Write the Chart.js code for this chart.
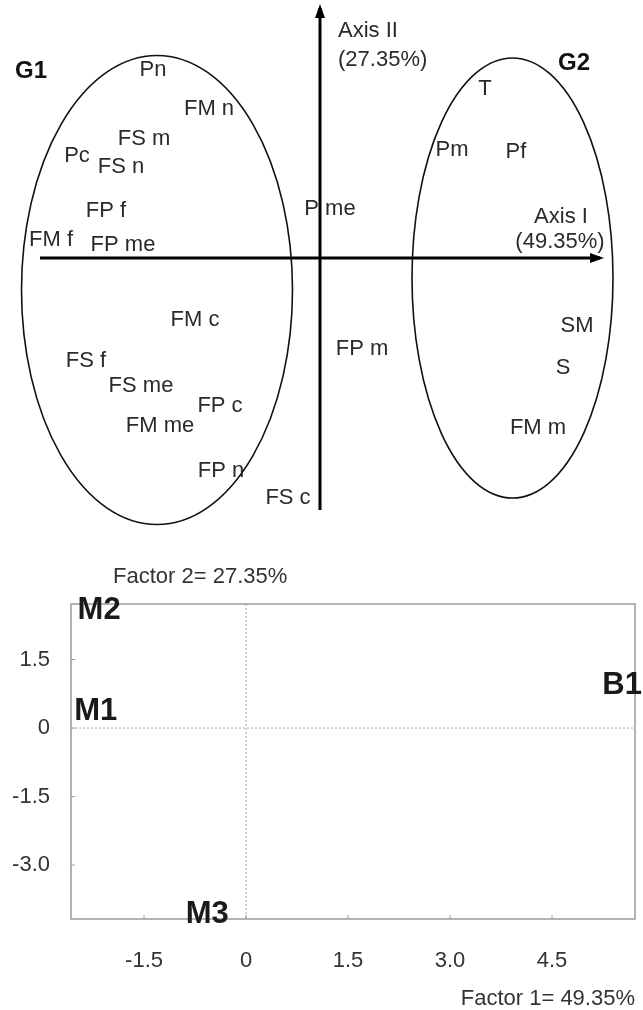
<!DOCTYPE html>
<html lang="en">
<head>
<meta charset="UTF-8">
<title>Correspondence analysis</title>
<script src="https://cdn.jsdelivr.net/npm/chart.js"></script>
<style>
  body { margin: 0; background: #fff; }
  canvas { display: block; }
</style>
</head>
<body>
<canvas id="biplot" width="643" height="540"></canvas>
<canvas id="factorPlot" width="643" height="470"></canvas>
<script>
  // --- top plot: variable scores on axis I / axis II ---
  const varNames = ['Pn', 'FM n', 'FS m', 'Pc', 'FS n', 'FP f', 'FM f', 'FP me', 'P me',
    'FM c', 'FS f', 'FS me', 'FP c', 'FM me', 'FP n', 'FS c', 'FP m',
    'T', 'Pm', 'Pf', 'SM', 'S', 'FM m'];
  const axisIScores = [-1.67, -1.11, -1.76, -2.43, -1.99, -2.14, -2.69, -1.97, 0.10,
    -1.25, -2.34, -1.79, -1.00, -1.60, -0.99, -0.32, 0.42,
    1.65, 1.32, 1.96, 2.57, 2.43, 2.18];
  const axisIIScores = [1.88, 1.49, 1.19, 1.02, 0.91, 0.47, 0.18, 0.13, 0.49,
    -0.62, -1.03, -1.28, -1.48, -1.68, -2.13, -2.40, -0.91,
    1.69, 1.08, 1.06, -0.68, -1.10, -1.70];

  // groups drawn as ellipses
  const groupNames = ['G1', 'G2'];
  const groupCenterX = [-1.63, 1.925];
  const groupCenterY = [-0.32, -0.20];
  const groupRadiusX = [1.355, 1.005];
  const groupRadiusY = [2.345, 2.20];
  const groupLabelX = [-2.89, 2.54];
  const groupLabelY = [1.87, 1.95];

  // axis arrows
  const axisIEnds = [-2.80, 2.80];
  const axisIIEnds = [-2.52, 2.50];

  // --- bottom plot: factor scores ---
  const siteNames = ['M1', 'M2', 'M3', 'B1'];
  const factor1 = [-2.21, -2.16, -0.57, 5.53];
  const factor2 = [0.37, 2.58, -4.07, 0.94];
  const xTicks = [-1.5, 0, 1.5, 3.0, 4.5];
  const xTickLabels = ['-1.5', '0', '1.5', '3.0', '4.5'];
  const yTicks = [1.5, 0, -1.5, -3.0];
  const yTickLabels = ['1.5', '0', '-1.5', '-3.0'];

  const FONT = "'Liberation Sans', Arial, sans-serif";

  // plugin: names, ellipses, arrowheads for the top plot
  const biplotPlugin = {
    id: 'biplotPlugin',
    afterDraw(chart) {
      const ctx = chart.ctx;
      const xs = chart.scales.x, ys = chart.scales.y;
      ctx.save();

      // ellipses
      ctx.strokeStyle = '#111';
      ctx.lineWidth = 1.6;
      groupNames.forEach((g, i) => {
        const cx = xs.getPixelForValue(groupCenterX[i]);
        const cy = ys.getPixelForValue(groupCenterY[i]);
        const rx = Math.abs(xs.getPixelForValue(groupCenterX[i] + groupRadiusX[i]) - cx);
        const ry = Math.abs(ys.getPixelForValue(groupCenterY[i] + groupRadiusY[i]) - cy);
        ctx.beginPath();
        ctx.ellipse(cx, cy, rx, ry, 0, 0, Math.PI * 2);
        ctx.stroke();
      });

      // arrowheads
      const x0 = xs.getPixelForValue(0), y0 = ys.getPixelForValue(0);
      const xEnd = xs.getPixelForValue(axisIEnds[1]);
      const yEnd = ys.getPixelForValue(axisIIEnds[1]);
      ctx.fillStyle = '#000';
      ctx.beginPath();
      ctx.moveTo(xEnd + 4, y0);
      ctx.lineTo(xEnd - 10, y0 - 5);
      ctx.lineTo(xEnd - 10, y0 + 5);
      ctx.closePath();
      ctx.fill();
      ctx.beginPath();
      ctx.moveTo(x0, yEnd - 4);
      ctx.lineTo(x0 - 5, yEnd + 10);
      ctx.lineTo(x0 + 5, yEnd + 10);
      ctx.closePath();
      ctx.fill();

      // variable names
      const meta = chart.getDatasetMeta(2);
      ctx.font = '22px ' + FONT;
      ctx.fillStyle = '#2a2a2a';
      ctx.textAlign = 'center';
      ctx.textBaseline = 'middle';
      meta.data.forEach((pt, i) => ctx.fillText(varNames[i], pt.x, pt.y));

      // axis titles
      ctx.textAlign = 'left';
      ctx.fillText('Axis II', x0 + 18, 31);
      ctx.fillText('(27.35%)', x0 + 18, 60);
      ctx.textAlign = 'center';
      ctx.fillText('Axis I', xEnd - 39, y0 - 41);
      ctx.fillText('(49.35%)', xEnd - 40, y0 - 16);

      // group names
      ctx.font = 'bold 24px ' + FONT;
      ctx.fillStyle = '#111';
      groupNames.forEach((g, i) => {
        ctx.fillText(g, xs.getPixelForValue(groupLabelX[i]), ys.getPixelForValue(groupLabelY[i]));
      });
      ctx.restore();
    }
  };

  new Chart(document.getElementById('biplot'), {
    type: 'scatter',
    data: {
      datasets: [
        {
          label: 'Axis I',
          data: axisIEnds.map(v => ({ x: v, y: 0 })),
          showLine: true, borderColor: '#000', borderWidth: 3, pointRadius: 0
        },
        {
          label: 'Axis II',
          data: axisIIEnds.map(v => ({ x: 0, y: v })),
          showLine: true, borderColor: '#000', borderWidth: 3, pointRadius: 0
        },
        {
          label: 'Variables',
          data: varNames.map((n, i) => ({ x: axisIScores[i], y: axisIIScores[i] })),
          pointRadius: 0
        }
      ]
    },
    options: {
      responsive: false,
      animation: false,
      layout: { padding: 0 },
      plugins: { legend: { display: false }, tooltip: { enabled: false } },
      scales: {
        x: { type: 'linear', display: false, min: -3.20, max: 3.23 },
        y: { type: 'linear', display: false, min: -2.82, max: 2.58 }
      }
    },
    plugins: [biplotPlugin]
  });

  // plugin: box, dotted zero lines, tick marks, titles, site names
  const factorPlugin = {
    id: 'factorPlugin',
    afterDraw(chart) {
      const ctx = chart.ctx;
      const a = chart.chartArea;
      const xs = chart.scales.x, ys = chart.scales.y;
      ctx.save();

      ctx.strokeStyle = '#aaa';
      ctx.lineWidth = 1;
      ctx.setLineDash([2, 2]);
      const zx = xs.getPixelForValue(0), zy = ys.getPixelForValue(0);
      ctx.beginPath();
      ctx.moveTo(zx, a.top); ctx.lineTo(zx, a.bottom);
      ctx.moveTo(a.left, zy); ctx.lineTo(a.right, zy);
      ctx.stroke();
      ctx.setLineDash([]);

      ctx.strokeStyle = '#9a9a9a';
      ctx.lineWidth = 1.5;
      ctx.strokeRect(a.left, a.top, a.right - a.left, a.bottom - a.top);

      ctx.lineWidth = 1;
      ctx.beginPath();
      xTicks.forEach(v => {
        const px = xs.getPixelForValue(v);
        ctx.moveTo(px, a.bottom); ctx.lineTo(px, a.bottom - 4);
      });
      yTicks.forEach(v => {
        const py = ys.getPixelForValue(v);
        ctx.moveTo(a.left, py); ctx.lineTo(a.left + 4, py);
      });
      ctx.stroke();

      ctx.font = '22px ' + FONT;
      ctx.fillStyle = '#333';
      ctx.textBaseline = 'middle';
      ctx.textAlign = 'left';
      ctx.fillText('Factor 2= 27.35%', 113, 37);
      ctx.textAlign = 'right';
      ctx.fillText('Factor 1= 49.35%', a.right, 459);

      const meta = chart.getDatasetMeta(0);
      ctx.font = 'bold 31px ' + FONT;
      ctx.fillStyle = '#1a1a1a';
      ctx.textAlign = 'center';
      meta.data.forEach((pt, i) => ctx.fillText(siteNames[i], pt.x, pt.y));
      ctx.restore();
    }
  };

  new Chart(document.getElementById('factorPlot'), {
    type: 'scatter',
    data: {
      datasets: [{
        label: 'Sites',
        data: siteNames.map((n, i) => ({ x: factor1[i], y: factor2[i] })),
        pointRadius: 0
      }]
    },
    options: {
      responsive: false,
      animation: false,
      layout: { padding: { left: 0, right: 8, top: 64, bottom: 0 } },
      plugins: { legend: { display: false }, tooltip: { enabled: false } },
      scales: {
        x: {
          type: 'linear', min: -2.574, max: 5.72,
          afterBuildTicks: s => { s.ticks = xTicks.map(v => ({ value: v })); },
          afterFit: s => { s.height = 91; },
          grid: { display: false, drawTicks: false },
          border: { display: false },
          ticks: {
            padding: 29, color: '#333', font: { size: 22, family: FONT },
            maxRotation: 0, autoSkip: false,
            callback: v => xTickLabels[xTicks.indexOf(v)]
          }
        },
        y: {
          type: 'linear', min: -4.18, max: 2.715,
          afterBuildTicks: s => { s.ticks = yTicks.map(v => ({ value: v })); },
          afterFit: s => { s.width = 71; },
          grid: { display: false, drawTicks: false },
          border: { display: false },
          ticks: {
            padding: 21, color: '#333', font: { size: 22, family: FONT },
            autoSkip: false,
            callback: v => yTickLabels[yTicks.indexOf(v)]
          }
        }
      }
    },
    plugins: [factorPlugin]
  });
</script>
</body>
</html>
